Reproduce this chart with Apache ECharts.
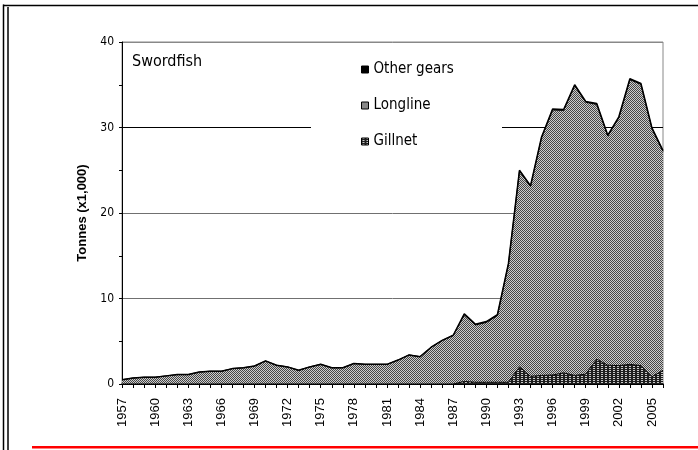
<!DOCTYPE html>
<html>
<head>
<meta charset="utf-8">
<script src="https://cdn.jsdelivr.net/npm/echarts@6/dist/echarts.min.js"></script>
<style>
html,body{margin:0;padding:0;background:#fff;}
#chart{width:698px;height:450px;}
</style>
</head>
<body>
<div id="chart"></div>
<script>
// ---- data (thousand tonnes) ----
const years = ['1957','1958','1959','1960','1961','1962','1963','1964','1965','1966',
  '1967','1968','1969','1970','1971','1972','1973','1974','1975','1976',
  '1977','1978','1979','1980','1981','1982','1983','1984','1985','1986',
  '1987','1988','1989','1990','1991','1992','1993','1994','1995','1996',
  '1997','1998','1999','2000','2001','2002','2003','2004','2005','2006'];

const gillnet = [0,0,0,0,0,0,0,0,0,0,
  0,0,0,0,0,0,0,0,0,0,
  0,0,0,0,0,0,0,0,0,0,
  0,0.3,0.2,0.2,0.2,0.2,2.0,0.9,1.0,1.05,
  1.3,1.0,1.15,2.9,2.2,2.15,2.3,2.15,0.85,1.6];

const longline = [0.5,0.7,0.8,0.8,0.95,1.1,1.1,1.4,1.5,1.5,
  1.8,1.9,2.1,2.7,2.2,2.0,1.6,2.0,2.3,1.9,
  1.9,2.4,2.3,2.3,2.3,2.8,3.4,3.2,4.3,5.1,
  5.7,7.8,6.7,7.0,7.8,13.8,22.9,22.2,27.8,31.0,
  30.7,33.9,31.8,29.8,26.8,29.0,33.3,32.9,29.0,25.6];

const otherGears = [0,0,0,0,0,0,0,0,0,0,
  0,0,0,0,0,0,0,0,0,0,
  0,0,0,0,0,0,0,0,0,0,
  0,0.1,0.1,0.1,0.1,0.1,0.1,0.1,0.1,0.1,
  0.1,0.1,0.1,0.1,0.1,0.1,0.1,0.1,0.1,0.1];

const yTicks = {min: 0, max: 40, interval: 10};

// ---- patterns ----
function makePattern(w, h, base, light, pts) {
  const c = document.createElement('canvas');
  c.width = w; c.height = h;
  const g = c.getContext('2d');
  g.fillStyle = base; g.fillRect(0, 0, w, h);
  g.fillStyle = light;
  pts.forEach(p => g.fillRect(p[0], p[1], 1, 1));
  return {image: c, repeat: 'repeat'};
}
const longPat = makePattern(2, 2, '#454545', '#cccccc', [[1,0],[0,1]]);
const gillPat = makePattern(4, 2, '#1e1e1e', '#c8c8c8', [[1,0],[2,0]]);

const narrow = "'Liberation Sans Narrow', 'DejaVu Sans Condensed', 'Liberation Sans', sans-serif";
const arial = "'Liberation Sans', Arial, sans-serif";

const chart = echarts.init(document.getElementById('chart'), null, {renderer: 'canvas'});
chart.setOption({
  animation: false,
  backgroundColor: '#fff',
  title: {
    text: 'Swordfish', left: 132, top: 54, padding: 0,
    textStyle: {fontFamily: narrow, fontSize: 16, fontWeight: 'normal', color: '#000'}
  },
  legend: {
    orient: 'vertical', left: 361, top: 62, padding: 0, itemGap: 21,
    itemWidth: 7, itemHeight: 7, icon: 'rect',
    textStyle: {fontFamily: narrow, fontSize: 15, color: '#000'},
    data: [
      {name: 'Other gears', itemStyle: {color: '#000', borderColor: '#000', borderWidth: 1}},
      {name: 'Longline', itemStyle: {color: longPat, borderColor: '#000', borderWidth: 1}},
      {name: 'Gillnet', itemStyle: {color: gillPat, borderColor: '#000', borderWidth: 1}}
    ]
  },
  grid: {left: 122, top: 42, width: 541, height: 342, show: true, borderColor: '#888', borderWidth: 1, backgroundColor: 'transparent'},
  xAxis: {
    type: 'category', data: years, boundaryGap: false,
    axisLine: {lineStyle: {color: '#000', width: 1.5}},
    axisTick: {show: true, interval: 0, length: 4, lineStyle: {color: '#000'}},
    axisLabel: {show: true, interval: 2, rotate: 90, margin: 14, fontFamily: arial, fontSize: 13, color: '#000'},
    splitLine: {show: false}
  },
  yAxis: {
    type: 'value', min: yTicks.min, max: yTicks.max, interval: yTicks.interval,
    name: 'Tonnes (x1,000)', nameLocation: 'middle', nameGap: 33, nameMoveOverlap: false,
    nameTextStyle: {fontFamily: arial, fontSize: 13, fontWeight: 'bold', color: '#000'},
    axisLine: {show: true, lineStyle: {color: '#000', width: 1}},
    axisTick: {show: true, length: 3, lineStyle: {color: '#000'}},
    minorTick: {show: true, splitNumber: 2, length: 3, lineStyle: {color: '#000'}},
    axisLabel: {margin: 8, fontFamily: narrow, fontSize: 12, color: '#000'},
    splitLine: {show: true, lineStyle: {color: ['#000', '#707070', '#707070', '#000', '#888'], width: 1}}
  },
  graphic: [
    {type: 'rect', z: 1, shape: {x: 311, y: 118, width: 191, height: 18}, style: {fill: '#fff'}},
    {type: 'line', z: 10, shape: {x1: 3.5, y1: 4.5, x2: 3.5, y2: 450}, style: {stroke: '#000', lineWidth: 1.5}},
    {type: 'line', z: 10, shape: {x1: 8, y1: 7, x2: 8, y2: 450}, style: {stroke: '#000', lineWidth: 1.5}},
    {type: 'line', z: 10, shape: {x1: 3, y1: 5.5, x2: 698, y2: 5.5}, style: {stroke: '#000', lineWidth: 1.5}},
    {type: 'rect', z: 10, shape: {x: 32, y: 446, width: 666, height: 2.5}, style: {fill: '#ff0000'}}
  ],
  series: [
    {
      name: 'Gillnet', type: 'line', stack: 'total', data: gillnet,
      showSymbol: false, symbol: 'none',
      itemStyle: {color: gillPat},
      lineStyle: {color: '#000', width: 1},
      areaStyle: {color: gillPat, opacity: 1}
    },
    {
      name: 'Longline', type: 'line', stack: 'total', data: longline,
      showSymbol: false, symbol: 'none',
      itemStyle: {color: longPat},
      lineStyle: {color: '#000', width: 1},
      areaStyle: {color: longPat, opacity: 1}
    },
    {
      name: 'Other gears', type: 'line', stack: 'total', data: otherGears,
      showSymbol: false, symbol: 'none',
      itemStyle: {color: '#000'},
      lineStyle: {color: '#000', width: 1.5},
      areaStyle: {color: '#000', opacity: 1}
    }
  ]
});
</script>
</body>
</html>
